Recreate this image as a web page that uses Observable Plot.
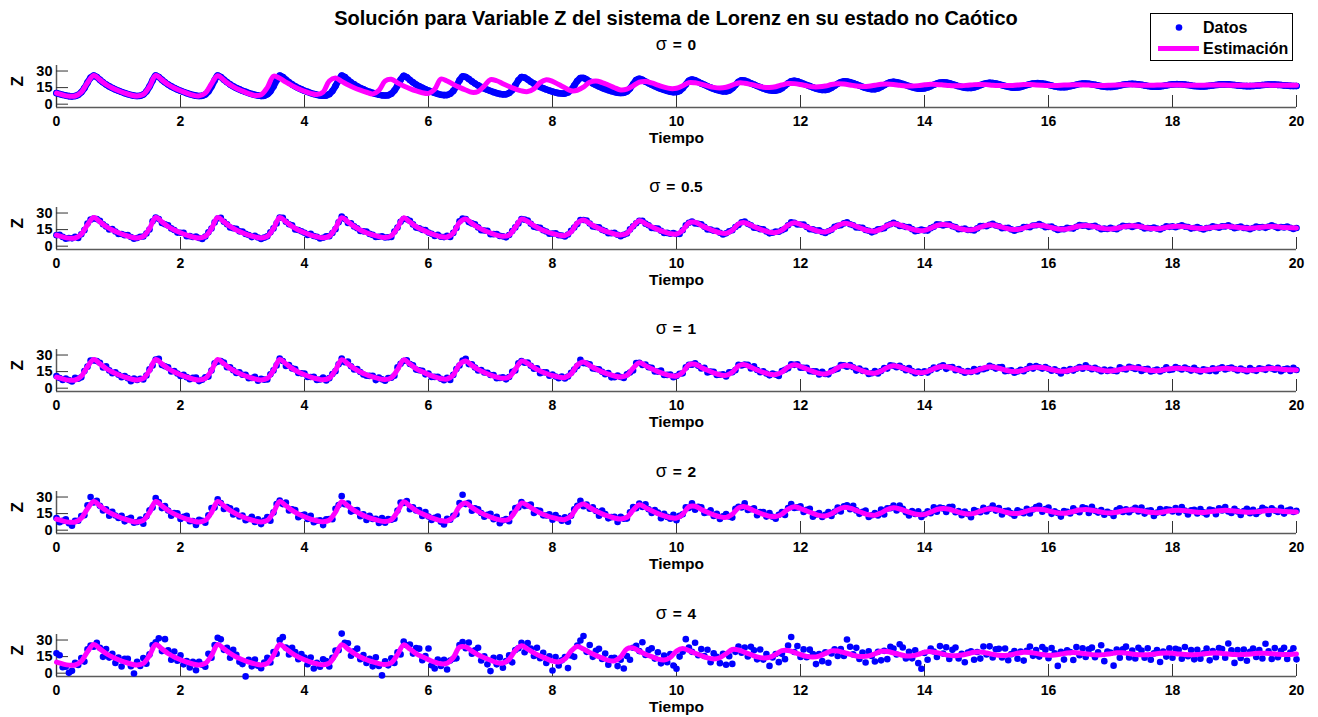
<!DOCTYPE html>
<html>
<head>
<meta charset="utf-8">
<script src="https://cdn.jsdelivr.net/npm/d3@7"></script>
<script src="https://cdn.jsdelivr.net/npm/@observablehq/plot@0.6"></script>
<style>
  body { margin: 0; background: #fff; }
  #fig { position: relative; width: 1318px; height: 717px; overflow: hidden;
         font-family: "Liberation Sans", Arial, Helvetica, sans-serif; font-weight: bold; color: #000; }
  .titulo { position: absolute; left: 56px; width: 1240px; text-align: center; white-space: nowrap; }
  .principal { top: 6px; font-size: 20px; line-height: 24px; }
  .sub { font-size: 15.5px; line-height: 20px; word-spacing: 1.5px; }
  .sub .sig { font-weight: normal; font-size: 18px; }
  #leyenda { position: absolute; left: 1150px; top: 13px; width: 143px; height: 48px;
             border: 1px solid #000; box-sizing: border-box; background: #fff; }
</style>
</head>
<body>
<div id="fig">
  <div class="titulo principal">Solución para Variable Z del sistema de Lorenz en su estado no Caótico</div>
  <div id="leyenda">
    <svg width="141" height="46" style="position:absolute;left:0;top:0">
      <circle cx="28" cy="13.5" r="3.3" fill="#0000ff"></circle>
      <line x1="7" y1="34.5" x2="48" y2="34.5" stroke="#ff00ff" stroke-width="5"></line>
      <text x="52" y="13.5" dominant-baseline="central" font-size="16" font-weight="bold"
            font-family="Liberation Sans, Arial, sans-serif">Datos</text>
      <text x="52" y="34.5" dominant-baseline="central" font-size="16" font-weight="bold"
            font-family="Liberation Sans, Arial, sans-serif">Estimación</text>
    </svg>
  </div>
</div>
<script>
// Ejes y etiquetas
const xTicks = [0, 2, 4, 6, 8, 10, 12, 14, 16, 18, 20];
const yTicks = [0, 15, 30];
const sigmas = ["0", "0.5", "1", "2", "4"];
const pasoDatos = 0.05;       // separación temporal de las muestras
const pasoEstimacion = 0.1;   // separación temporal de la curva estimada

// Variable Z sin ruido (muestras cada 0.05 s)
const zReal = [
  10.0, 9.2, 8.4, 7.8, 7.3, 7.1, 7.4, 8.5, 10.8, 14.5, 19.5, 24.0, 26.0, 24.5, 22.0, 19.8, 17.8, 16.1, 14.6, 13.3,
  12.1, 11.0, 10.0, 9.1, 8.3, 7.7, 7.4, 7.6, 8.8, 11.5, 16.0, 21.5, 26.0, 24.5, 22.0, 19.8, 17.8, 16.1, 14.6, 13.3,
  12.1, 11.0, 10.0, 9.1, 8.3, 7.7, 7.4, 7.6, 8.8, 11.5, 16.0, 21.5, 26.0, 24.6, 22.1, 19.9, 17.9, 16.2, 14.7, 13.4,
  12.2, 11.1, 10.1, 9.2, 8.4, 7.8, 7.5, 7.7, 8.9, 11.6, 16.1, 21.6, 25.9, 24.6, 22.1, 19.9, 17.9, 16.2, 14.7, 13.4,
  12.2, 11.1, 10.1, 9.2, 8.5, 7.9, 7.6, 7.9, 9.1, 11.9, 16.4, 21.7, 25.8, 24.5, 22.0, 19.8, 17.9, 16.2, 14.7, 13.4,
  12.2, 11.1, 10.2, 9.3, 8.6, 8.0, 7.8, 8.1, 9.4, 12.3, 16.8, 22.0, 25.6, 24.3, 21.9, 19.7, 17.8, 16.2, 14.8, 13.5,
  12.3, 11.2, 10.2, 9.3, 8.6, 8.2, 8.3, 9.4, 12.0, 16.4, 21.5, 25.1, 24.6, 22.8, 20.6, 18.7, 17.0, 15.5, 14.2, 13.0,
  11.9, 10.9, 10.0, 9.3, 8.9, 9.0, 10.1, 12.8, 17.0, 21.6, 24.5, 24.0, 22.3, 20.3, 18.6, 17.0, 15.6, 14.4, 13.3, 12.3,
  11.4, 10.6, 10.0, 9.6, 9.7, 10.6, 13.0, 16.8, 21.0, 23.6, 23.7, 22.3, 20.5, 18.8, 17.3, 16.0, 14.8, 13.7, 12.7, 11.8,
  11.0, 10.4, 10.1, 10.3, 11.5, 14.2, 18.0, 21.8, 23.0, 22.0, 20.4, 18.9, 17.5, 16.2, 15.0, 13.9, 12.9, 12.0, 11.3, 10.9,
  11.0, 12.0, 14.4, 17.8, 21.2, 22.3, 21.6, 20.2, 18.8, 17.5, 16.2, 15.0, 13.9, 12.9, 12.1, 11.6, 11.6, 12.4, 14.4, 17.3,
  20.2, 21.6, 21.3, 20.2, 18.9, 17.7, 16.5, 15.4, 14.3, 13.3, 12.6, 12.2, 12.3, 13.0, 14.5, 16.7, 19.0, 20.7, 21.1, 20.6,
  19.6, 18.5, 17.4, 16.3, 15.2, 14.2, 13.4, 12.9, 12.9, 13.5, 14.8, 16.6, 18.5, 19.9, 20.6, 20.5, 19.9, 19.0, 17.9, 16.8,
  15.7, 14.7, 13.9, 13.5, 13.6, 14.3, 15.6, 17.2, 18.7, 19.8, 20.2, 19.9, 19.2, 18.3, 17.3, 16.3, 15.4, 14.6, 14.1, 14.0,
  14.3, 15.1, 16.3, 17.6, 18.7, 19.5, 19.7, 19.5, 18.9, 18.1, 17.2, 16.3, 15.5, 14.9, 14.6, 14.7, 15.2, 16.1, 17.2, 18.2,
  19.0, 19.3, 19.2, 18.7, 18.0, 17.2, 16.4, 15.7, 15.2, 15.0, 15.1, 15.6, 16.4, 17.3, 18.1, 18.7, 19.0, 19.0, 18.7, 18.2,
  17.5, 16.8, 16.1, 15.6, 15.3, 15.3, 15.6, 16.2, 16.9, 17.6, 18.2, 18.6, 18.7, 18.5, 18.1, 17.5, 16.9, 16.3, 15.9, 15.6,
  15.6, 15.8, 16.3, 16.9, 17.5, 18.0, 18.3, 18.4, 18.3, 18.0, 17.5, 17.0, 16.5, 16.1, 15.9, 15.9, 16.1, 16.5, 17.0, 17.5,
  17.9, 18.1, 18.1, 18.0, 17.7, 17.3, 16.9, 16.5, 16.2, 16.1, 16.1, 16.3, 16.6, 17.0, 17.4, 17.7, 17.9, 17.9, 17.9, 17.6,
  17.3, 17.0, 16.7, 16.4, 16.3, 16.3, 16.4, 16.7, 17.0, 17.3, 17.6, 17.7, 17.8, 17.7, 17.5, 17.3, 17.0, 16.8, 16.6, 16.5,
  16.5
];

// Desviación de cada dato medido respecto de zReal, por nivel de ruido
const ruidoSigma05 = [
  0,1,0,-1,0,0,1,-1,0,0,1,0,-1,0,1,0,0,-1,1,0,
  -1,0,0,1,0,-1,0,1,0,0,-1,1,0,0,-1,0,1,0,0,-1,
  0,1,-1,0,0,1,0,-1,0,1,0,0,-1,1,0,0,-1,0,1,0,
  1,0,0,-1,1,0,-1,0,0,1,0,-1,0,1,0,0,1,-1,0,0,
  0,-1,1,0,0,-1,0,1,0,0,-1,0,1,0,-1,1,0,0,-1,0,
  1,0,0,-1,0,1,0,0,-1,1,0,0,-1,0,1,0,-1,0,0,1,
  0,0,-1,1,0,0,1,-1,0,0,1,0,0,-1,0,1,0,-1,0,1,
  -1,0,1,0,0,-1,0,1,0,-1,0,0,1,0,-1,0,1,0,0,-1,
  0,1,0,0,-1,0,1,0,-1,0,0,1,0,-1,0,1,0,0,-1,0,
  1,0,-1,0,0,1,0,-1,0,1,0,0,-1,0,1,0,-1,0,0,1,
  0,-1,0,1,0,0,-1,0,1,0,-1,0,0,1,0,-1,0,1,0,0,
  -1,0,1,0,0,-1,0,0,1,0,-1,0,1,0,0,-1,0,1,0,-1,
  0,1,0,-1,0,0,1,0,-1,0,0,1,0,-1,0,1,0,0,-1,0,
  1,0,0,-1,0,1,0,-1,0,0,1,0,-1,0,0,1,0,-1,0,1,
  0,-1,0,0,1,0,-1,0,1,0,0,-1,0,1,0,0,-1,0,1,0,
  -1,0,1,0,0,-1,0,1,0,-1,0,0,1,0,-1,0,0,1,0,-1,
  0,1,0,-1,0,0,1,0,-1,0,1,0,0,-1,0,1,0,-1,0,0,
  1,0,-1,0,1,0,0,-1,0,1,0,-1,0,0,1,0,-1,0,1,0,
  0,-1,0,1,0,0,-1,0,1,0,-1,0,0,1,0,-1,0,0,1,0,
  -1,0,1,0,0,-1,0,1,0,0,-1,0,1,0,-1,0,0,1,0,-1,
  0
];
const ruidoSigma1 = [
  1,0,-1,1,0,-1,2,0,-1,1,0,1,-1,0,1,-1,2,0,-1,1,
  0,-1,1,0,-2,1,0,1,-1,0,1,-1,0,2,-1,0,1,-1,1,0,
  -1,1,0,-1,1,2,-1,0,1,-1,0,1,-2,0,1,-1,1,0,-1,1,
  0,1,-1,0,2,-1,1,0,-1,1,0,-1,1,0,-2,1,0,1,-1,0,
  1,-1,0,1,-1,0,2,-1,0,1,-1,0,1,-1,2,0,-1,1,0,-1,
  -1,0,1,-2,1,0,-1,1,0,-1,2,0,-1,1,0,1,-1,0,1,-1,
  1,-1,0,1,0,-1,1,-2,0,1,-1,0,2,-1,1,0,-1,1,0,1,
  0,1,-1,0,1,-1,0,2,-1,1,0,-1,1,0,-1,1,-2,0,1,-1,
  1,0,-1,1,-1,0,1,0,-1,2,-1,0,1,-1,0,1,0,-1,1,-2,
  -1,1,0,-1,1,0,-2,1,0,-1,1,0,1,-1,0,2,-1,0,1,-1,
  0,1,-1,1,0,-1,1,0,-1,1,-2,0,1,-1,0,1,-1,2,0,-1,
  1,-1,0,1,-1,2,0,-1,1,0,-1,1,0,-2,1,0,-1,1,0,1,
  -1,0,1,-1,0,1,-1,2,0,-1,1,0,-1,1,0,-1,1,0,-2,1,
  0,1,-1,0,2,-1,0,1,-1,1,0,-1,1,0,-1,2,0,-1,1,0,
  1,-1,0,1,-1,0,1,-2,0,1,-1,1,0,-1,1,0,2,-1,0,-1,
  -1,1,0,-1,1,2,-1,0,1,-1,0,1,-1,0,2,-1,1,0,-1,1,
  0,-1,1,0,-2,1,0,1,-1,0,1,-1,2,0,-1,1,0,-1,1,0,
  1,0,-1,2,0,-1,1,0,-1,1,-2,0,1,-1,0,1,-1,0,2,-1,
  -1,1,0,-1,1,0,-1,2,0,-1,1,0,-1,1,-2,0,1,-1,0,1,
  0,-1,1,0,-1,2,0,-1,1,0,-1,1,0,-1,1,-2,0,1,-1,2,
  0
];
const ruidoSigma2 = [
  1,-2,0,2,-1,-3,1,0,2,-1,3,6,-1,2,0,-2,1,-3,2,0,
  -1,2,-2,1,3,-1,0,2,-3,1,2,-1,3,1,-2,2,0,-3,1,2,
  -2,1,3,-1,0,-3,2,1,-2,2,4,-1,2,0,-3,1,2,-2,3,-1,
  1,-2,0,3,-1,2,-2,1,3,-3,0,2,1,-1,3,-2,1,2,-3,0,
  2,-1,3,-2,0,1,-3,2,1,-2,3,1,5,-1,2,-3,0,2,-2,1,
  -3,2,0,1,-2,3,-1,2,0,-2,1,3,-1,2,-3,1,0,2,-2,3,
  0,-2,1,3,-1,-3,2,0,1,-2,3,7,-1,2,-3,1,2,0,-2,1,
  3,-1,2,-3,0,1,-2,2,3,-1,1,-2,0,3,-3,1,2,-1,0,2,
  -2,3,1,-1,2,-3,0,2,1,3,-2,1,-1,2,0,-3,3,1,-2,0,
  1,-3,2,0,-1,2,3,-2,1,-1,3,0,-2,2,1,-3,2,0,-1,3,
  -2,1,0,3,-1,2,-3,1,2,-2,0,3,-1,2,-2,1,3,0,-3,2,
  1,-1,3,-2,0,2,-3,1,2,-1,3,0,-2,1,2,-3,1,3,-1,0,
  2,-2,1,3,-3,0,2,-1,1,3,-2,0,2,-3,1,2,-1,3,0,-2,
  1,3,-2,0,2,-1,3,-3,1,0,2,-2,3,1,-1,-3,2,0,3,-2,
  0,2,-1,3,-2,1,0,-3,2,3,-1,1,-2,2,0,-3,3,1,-1,2,
  -2,0,3,-1,2,-3,1,2,0,-2,3,1,-1,2,-3,0,2,3,-2,1,
  3,-2,1,0,-3,2,1,-1,3,0,-2,2,1,-3,3,0,-1,2,-2,1,
  0,-3,2,3,-1,1,-2,0,2,-1,3,-2,1,2,-3,0,3,-1,2,1,
  -1,2,-2,3,0,-3,1,2,-1,3,0,-2,2,1,-3,2,0,3,-1,-2,
  2,0,-3,1,3,-1,2,-2,0,3,1,-3,2,0,-1,3,-2,1,2,0,
  1
];
const ruidoSigma4 = [
  8,7,-3,-2,-7,-5,2,-1,3,-4,2,1,-2,3,1,-5,4,-2,3,-4,
  2,-5,3,4,-2,-8,3,-1,5,-3,1,4,2,7,-2,11,3,-4,5,-2,
  4,-3,1,-4,2,-5,3,0,-3,6,-2,4,6,6,-1,3,-4,5,2,-3,
  -4,-14,2,-3,4,-1,-3,2,5,-2,3,-4,4,8,1,-3,5,3,-2,4,
  2,-3,4,-5,1,-2,5,3,-3,2,4,-1,10,3,5,-4,2,6,-2,3,
  -3,2,-4,5,-2,-10,3,-1,4,-3,2,-5,3,1,4,-2,5,6,-3,2,
  10,-4,-6,3,-2,4,-5,2,1,-3,4,3,-2,5,-3,2,6,-4,1,-5,
  -10,3,-2,5,-4,2,6,-3,4,1,3,-5,5,2,-3,6,-2,4,-4,3,
  -9,4,-3,2,5,-6,3,-2,4,6,10,-3,5,-4,3,6,-2,4,-5,2,
  3,-4,2,-6,4,-2,5,3,-3,6,-4,2,5,-3,4,-5,3,-2,6,-4,
  -7,3,5,13,2,-3,6,-4,3,-2,5,-5,4,2,-3,6,-4,3,-6,2,
  4,-3,2,-5,5,3,-4,6,-2,4,-6,2,5,-3,3,-4,6,12,-2,4,
  -5,3,-3,5,2,-6,4,-2,6,-4,3,5,-3,2,-5,10,4,-2,5,-4,
  3,-5,6,2,-3,5,-4,3,-6,4,2,-3,7,5,-4,3,-2,6,-5,-10,
  4,-3,6,2,-4,5,-2,4,-6,3,6,-3,2,-5,4,5,-3,3,-4,6,
  -2,5,-5,3,4,-3,6,-4,2,5,-2,4,-5,3,6,-3,2,-4,5,3,
  -4,6,2,-9,4,-3,5,3,-5,6,-2,4,-4,3,5,-3,2,9,-5,4,
  3,-9,5,-3,4,6,-4,2,-5,5,3,-3,6,-4,2,5,-6,3,-2,5,
  -4,4,3,-5,6,-2,4,-4,5,-3,2,6,-5,3,-3,5,4,-4,9,3,
  -8,4,-3,5,-5,3,6,-2,4,-4,9,2,-5,5,-3,3,6,-4,2,6,
  -4
];

// Curvas estimadas (muestras cada 0.1 s)
const estimacionSigma0 = [
  10.0, 8.4, 7.3, 7.4, 10.8, 19.5, 26.0, 22.0, 17.8, 14.6,
  12.1, 10.0, 8.3, 7.4, 8.8, 16.0, 26.0, 22.0, 17.8, 14.6,
  12.1, 10.0, 8.2, 7.5, 10.0, 18.5, 25.8, 21.6, 17.5, 14.3,
  11.8, 9.6, 7.9, 8.6, 15.0, 25.3, 23.4, 19.9, 16.8, 14.0,
  11.7, 9.8, 8.7, 11.0, 21.0, 23.6, 20.6, 17.5, 14.9, 12.7,
  10.8, 9.3, 12.5, 21.0, 22.6, 19.3, 16.5, 14.1, 12.0, 10.4,
  9.8, 13.5, 22.8, 21.0, 17.9, 15.2, 12.8, 10.7, 11.5, 16.5,
  22.3, 21.2, 18.5, 16.0, 13.8, 12.0, 11.4, 13.8, 19.5, 22.2,
  20.6, 17.8, 14.8, 12.2, 12.6, 15.5, 19.8, 20.9, 19.6, 17.4,
  14.9, 12.9, 13.6, 16.6, 19.9, 20.5, 19.2, 17.3, 15.4, 14.1,
  14.4, 16.6, 19.5, 19.3, 18.1, 16.6, 15.2, 14.6, 15.3, 17.2,
  19.2, 19.0, 17.9, 16.6, 15.4, 15.1, 15.8, 17.4, 18.7, 18.6,
  17.8, 16.7, 15.7, 15.7, 16.4, 17.8, 18.5, 18.2, 17.4, 16.5,
  16.1, 16.3, 17.1, 18.0, 18.2, 17.8, 17.1, 16.5, 16.4, 16.8,
  17.5, 18.0, 17.9, 17.4, 16.8, 16.6, 16.7, 17.2, 17.7, 17.9,
  17.7, 17.2, 16.9, 16.8, 17.0, 17.4, 17.7, 17.7, 17.4, 17.1,
  16.9, 16.9, 17.1, 17.4, 17.6, 17.6, 17.4, 17.1, 17.0, 17.0,
  17.2, 17.4, 17.5, 17.5, 17.3, 17.1, 17.1, 17.2, 17.3, 17.4,
  17.4, 17.3, 17.2, 17.1, 17.1, 17.2, 17.3, 17.3, 17.3, 17.2,
  17.1, 17.1, 17.2, 17.2, 17.3, 17.3, 17.2, 17.2, 17.1, 17.1,
  17.1
];
// Estimación con σ = 0.5, 1 y 2 (las tres coinciden a esta escala)
const estimacionRuidoBajo = [
  10.0, 8.4, 7.3, 7.4, 10.8, 19.5, 26.0, 22.0, 17.8, 14.6,
  12.1, 10.0, 8.3, 7.4, 8.8, 16.0, 26.0, 22.0, 17.8, 14.6,
  12.1, 10.0, 8.3, 7.4, 8.8, 16.0, 26.0, 22.1, 17.9, 14.7,
  12.2, 10.1, 8.4, 7.5, 8.9, 16.1, 25.9, 22.1, 17.9, 14.7,
  12.2, 10.1, 8.5, 7.6, 9.1, 16.4, 25.8, 22.0, 17.9, 14.7,
  12.2, 10.2, 8.6, 7.8, 9.4, 16.8, 25.6, 21.9, 17.8, 14.8,
  12.3, 10.2, 8.6, 8.3, 12.0, 21.5, 24.6, 20.6, 17.0, 14.2,
  11.9, 10.0, 8.9, 10.1, 17.0, 24.5, 22.3, 18.6, 15.6, 13.3,
  11.4, 10.0, 9.7, 13.0, 21.0, 23.7, 20.5, 17.3, 14.8, 12.7,
  11.0, 10.1, 11.5, 18.0, 23.0, 20.4, 17.5, 15.0, 12.9, 11.3,
  11.0, 14.4, 21.2, 21.6, 18.8, 16.2, 13.9, 12.1, 11.6, 14.4,
  20.2, 21.3, 18.9, 16.5, 14.3, 12.6, 12.3, 14.5, 19.0, 21.1,
  19.6, 17.4, 15.2, 13.4, 12.9, 14.8, 18.5, 20.6, 19.9, 17.9,
  15.7, 13.9, 13.6, 15.6, 18.7, 20.2, 19.2, 17.3, 15.4, 14.1,
  14.3, 16.3, 18.7, 19.7, 18.9, 17.2, 15.5, 14.6, 15.2, 17.2,
  19.0, 19.2, 18.0, 16.4, 15.2, 15.1, 16.4, 18.1, 19.0, 18.7,
  17.5, 16.1, 15.3, 15.6, 16.9, 18.2, 18.7, 18.1, 16.9, 15.9,
  15.6, 16.3, 17.5, 18.3, 18.3, 17.5, 16.5, 15.9, 16.1, 17.0,
  17.9, 18.1, 17.7, 16.9, 16.2, 16.1, 16.6, 17.4, 17.9, 17.9,
  17.3, 16.7, 16.3, 16.4, 17.0, 17.6, 17.8, 17.5, 17.0, 16.6,
  16.5
];
const estimacionSigma4 = [
  10.0, 8.4, 7.3, 7.4, 10.8, 19.5, 26.0, 22.0, 17.8, 14.6,
  12.1, 10.0, 8.3, 7.4, 8.8, 16.0, 26.0, 22.0, 17.8, 14.6,
  12.1, 10.0, 8.3, 7.4, 8.8, 16.0, 26.0, 22.1, 17.9, 14.7,
  12.2, 10.1, 8.4, 7.5, 8.9, 16.1, 25.9, 22.1, 17.9, 14.7,
  12.2, 10.1, 8.5, 7.6, 9.1, 16.4, 25.8, 22.0, 17.9, 14.7,
  12.2, 10.2, 8.6, 7.8, 9.4, 16.8, 25.6, 21.9, 17.8, 14.8,
  12.3, 10.0, 8.5, 9.0, 14.0, 23.5, 23.8, 20.0, 16.7, 14.0,
  11.7, 9.6, 9.2, 12.5, 20.5, 24.8, 21.8, 18.4, 15.6, 13.2,
  11.0, 10.2, 12.8, 20.0, 24.2, 21.8, 18.7, 16.1, 13.8, 11.6,
  11.2, 14.8, 22.0, 22.8, 19.8, 17.2, 15.0, 12.8, 12.0, 14.2,
  20.0, 22.4, 20.4, 18.0, 15.9, 13.9, 12.9, 14.0, 17.6, 21.4,
  21.0, 18.9, 16.8, 14.8, 13.8, 14.3, 17.0, 20.5, 20.6, 18.8,
  16.9, 15.2, 14.6, 15.5, 17.8, 20.2, 20.1, 18.7, 17.1, 15.6,
  15.1, 15.7, 17.6, 19.8, 19.6, 18.3, 16.9, 15.6, 15.7, 17.0,
  19.0, 19.5, 18.6, 17.2, 16.1, 15.8, 16.4, 17.6, 19.0, 19.2,
  18.3, 17.1, 16.2, 16.1, 16.8, 18.0, 19.0, 18.8, 17.9, 16.9,
  16.3, 16.5, 17.3, 18.3, 18.7, 18.3, 17.5, 16.8, 16.5, 16.8,
  17.6, 18.4, 18.4, 17.8, 17.0, 16.6, 16.7, 17.3, 18.0, 18.3,
  18.0, 17.4, 16.9, 16.7, 16.9, 17.5, 18.0, 18.2, 17.9, 17.4,
  16.9, 16.8, 17.1, 17.6, 18.1, 18.0, 17.6, 17.2, 16.9, 17.0,
  17.4
];

const ruidos = [null, ruidoSigma05, ruidoSigma1, ruidoSigma2, ruidoSigma4];
const estimaciones = [estimacionSigma0, estimacionRuidoBajo, estimacionRuidoBajo, estimacionRuidoBajo, estimacionSigma4];

const AZUL = "#0000ff";
const MAGENTA = "#ff00ff";
const fig = document.getElementById("fig");

// Geometría de cada subgráfica
const baseEje0 = 106.7;      // línea inferior del primer eje
const separacion = 142.2;    // distancia vertical entre subgráficas
const alto = 92, mTop = 8, mBottom = 42;

sigmas.forEach((s, k) => {
  const ruido = ruidos[k];
  const datos = zReal.map((z, i) => ({t: i * pasoDatos, z: ruido ? z + ruido[i] : z}));
  const estim = estimaciones[k].map((z, i) => ({t: i * pasoEstimacion, z}));
  const base = baseEje0 + separacion * k;

  const sub = document.createElement("div");
  sub.className = "titulo sub";
  sub.style.top = (base - 62.7 - 10) + "px";
  sub.innerHTML = `<span class="sig">σ</span> = ${s}`;
  fig.appendChild(sub);

  const chart = Plot.plot({
    width: 1318,
    height: alto,
    marginLeft: 56,
    marginRight: 22,
    marginTop: mTop,
    marginBottom: mBottom,
    x: {domain: [0, 20]},
    y: {domain: [-3, 35]},
    style: {
      fontFamily: "Liberation Sans, Arial, sans-serif",
      fontWeight: "bold",
      fontSize: "14px",
      color: "#000",
      background: "transparent",
      overflow: "visible"
    },
    marks: [
      Plot.ruleX([0], {stroke: "#5a5a5a", strokeWidth: 1.5}),
      Plot.ruleY([-3], {stroke: "#5a5a5a", strokeWidth: 1.5}),
      Plot.axisX({ticks: xTicks, tickSize: 12, insetBottom: 12, fill: "none", stroke: "#333"}),
      Plot.axisY({ticks: yTicks, tickSize: 12, insetLeft: 12, fill: "none", stroke: "#333"}),
      Plot.axisX({ticks: xTicks, tickSize: 0, tickPadding: 9, label: null, fontSize: 14}),
      Plot.axisY({ticks: yTicks, tickSize: 0, tickPadding: 4, label: null, fontSize: 14.5}),
      // sin ruido los datos son tan densos que forman un trazo continuo
      ruido ? null : Plot.line(datos, {x: "t", y: "z", stroke: AZUL, strokeWidth: 6.6, curve: "catmull-rom"}),
      Plot.dot(datos, {x: "t", y: "z", r: 3.3, fill: AZUL}),
      Plot.line(estim, {x: "t", y: "z", stroke: MAGENTA, strokeWidth: 5, curve: "catmull-rom"}),
      Plot.text(["Z"], {text: d => d, frameAnchor: "left", dx: -39, rotate: -90, fontSize: 17, fontWeight: "bold"}),
      Plot.text(["Tiempo"], {text: d => d, frameAnchor: "bottom", lineAnchor: "middle", dy: 31, fontSize: 15.5, fontWeight: "bold"})
    ]
  });
  chart.style.position = "absolute";
  chart.style.left = "0px";
  chart.style.top = (base - 42 - mTop) + "px";
  fig.appendChild(chart);
});
</script>
</body>
</html>
